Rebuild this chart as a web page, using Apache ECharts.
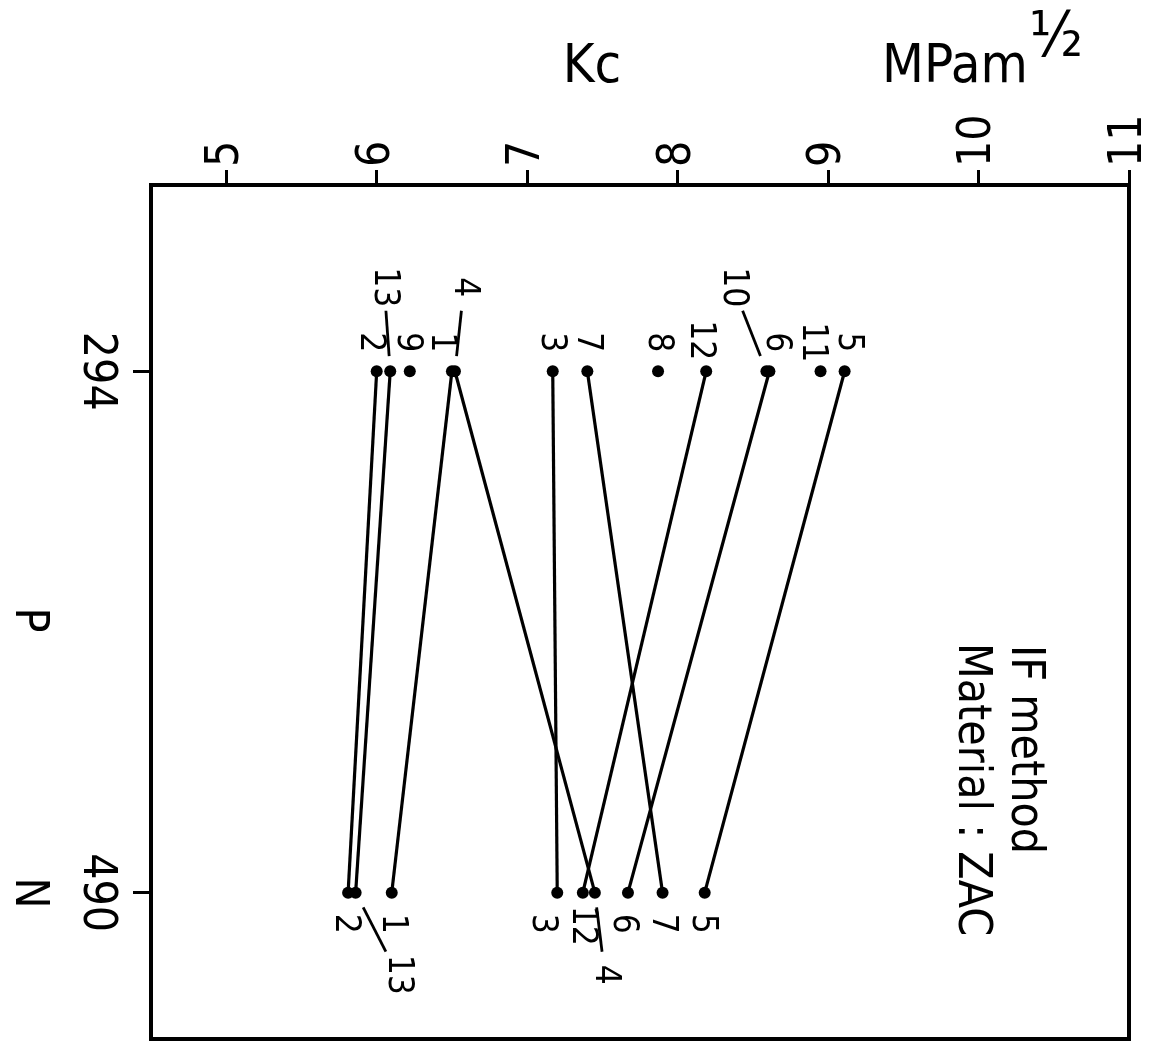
<!DOCTYPE html>
<html>
<head>
<meta charset="utf-8">
<title>Kc vs P — IF method, ZAC</title>
<script src="https://cdn.jsdelivr.net/npm/echarts@6/dist/echarts.min.js"></script>
<style>
  html, body { margin: 0; padding: 0; background: #fff; }
  #chart { width: 1163px; height: 1042px; }
</style>
</head>
<body>
<div id="chart"></div>
<script>
// Indentation loads P (N)
const loads = [294, 490];
// Specimen numbers
const specimens = ['1', '2', '3', '4', '5', '6', '7', '8', '9', '10', '11', '12', '13'];
// Fracture toughness Kc (MPa·m^1/2) at P = 294 N
const kcAt294 = [6.50, 6.00, 7.17, 6.52, 9.11, 8.61, 7.40, 7.87, 6.22, 8.59, 8.95, 8.19, 6.09];
// Fracture toughness Kc (MPa·m^1/2) at P = 490 N (null: not measured)
const kcAt490 = [6.10, 5.81, 7.20, 7.45, 8.18, 7.67, 7.90, null, null, null, null, 7.37, 5.86];
// Axis tick values
const kcTicks = [5, 6, 7, 8, 9, 10, 11];
const loadTicks = [294, 490];

// Label placement around each point: [right, down] in screen px from the dot centre
const labelShift294 = {
  '1': [-11, -29], '2': [-7, -29], '3': [-2, -29], '4': [9, -84], '5': [3, -29],
  '6': [7, -29], '7': [0, -29], '8': [0, -29], '9': [-3, -29], '10': [-33, -84],
  '11': [-8, -29], '12': [-6, -31], '13': [-6, -84]
};
const labelShift490 = {
  '1': [0, 31], '2': [-3, 31], '3': [-15, 31], '4': [10, 82], '5': [-3, 31],
  '6': [-5, 31], '7': [0, 31], '12': [-1, 33], '13': [42, 82]
};
// Labels that sit one row further out and get a short leader stroke
const leader294 = ['4', '10', '13'];
const leader490 = ['4', '13'];

const FONT = "'DejaVu Sans Condensed', 'Liberation Sans Narrow', 'DejaVu Sans', sans-serif";

const series = specimens.map((name, i) => {
  const points = [];
  const shifts = [];
  if (kcAt294[i] != null) {
    points.push([kcAt294[i], loads[0]]);
    shifts.push(labelShift294[name]);
  }
  if (kcAt490[i] != null) {
    points.push([kcAt490[i], loads[1]]);
    shifts.push(labelShift490[name]);
  }
  return {
    type: 'line',
    name: name,
    data: points,
    symbol: 'circle',
    symbolSize: 12,
    itemStyle: { color: '#000' },
    lineStyle: { color: '#000', width: 3.2 },
    silent: true,
    emphasis: { disabled: true },
    z: 3,
    label: {
      show: true,
      position: 'inside',
      rotate: -90,
      align: 'center',
      verticalAlign: 'middle',
      formatter: name,
      fontSize: 35,
      fontFamily: FONT,
      color: '#000',
      textBorderWidth: 0
    },
    // the label frame is turned a quarter clockwise, so screen shifts are mapped into it
    labelLayout: (p) => {
      const s = shifts[p.dataIndex];
      return { dx: s[1], dy: -s[0] };
    }
  };
});

// Leader strokes between a point and its outer label: [Kc, P, shiftRight, shiftDown]
const leaderData = [];
specimens.forEach((name, i) => {
  if (leader294.includes(name)) leaderData.push([kcAt294[i], loads[0], ...labelShift294[name]]);
  if (leader490.includes(name)) leaderData.push([kcAt490[i], loads[1], ...labelShift490[name]]);
});

series.push({
  type: 'custom',
  name: 'leaders',
  silent: true,
  z: 2,
  encode: { x: 0, y: 1 },
  data: leaderData,
  renderItem: (params, api) => {
    const c = api.coord([api.value(0), api.value(1)]);
    const sx = api.value(2), sy = api.value(3);
    return {
      type: 'line',
      shape: {
        x1: c[0] + sx * 0.18, y1: c[1] + sy * 0.18,
        x2: c[0] + sx * 0.72, y2: c[1] + sy * 0.72
      },
      style: { stroke: '#000', lineWidth: 2.8 }
    };
  }
});

const chart = echarts.init(document.getElementById('chart'), null, { renderer: 'canvas' });

chart.setOption({
  animation: false,
  backgroundColor: '#fff',
  grid: {
    left: 151, top: 185, right: 34, bottom: 3,
    show: true, borderColor: '#000', borderWidth: 4, backgroundColor: 'transparent'
  },
  xAxis: {
    type: 'value',
    position: 'top',
    min: 4.5,
    max: 11,
    axisLine: { show: true, onZero: false, lineStyle: { color: '#000', width: 4 } },
    axisTick: { show: true, customValues: kcTicks, length: 15, lineStyle: { color: '#000', width: 3 } },
    axisLabel: {
      customValues: kcTicks, rotate: -90, margin: 18,
      fontSize: 46, fontFamily: FONT, color: '#000'
    },
    splitLine: { show: false }
  },
  yAxis: {
    type: 'value',
    inverse: true,
    min: 224,
    max: 545,
    axisLine: { show: true, onZero: false, lineStyle: { color: '#000', width: 4 } },
    axisTick: { show: true, customValues: loadTicks, length: 18, lineStyle: { color: '#000', width: 3 } },
    axisLabel: {
      customValues: loadTicks, rotate: -90, margin: 32,
      fontSize: 46, fontFamily: FONT, color: '#000'
    },
    splitLine: { show: false }
  },
  graphic: [
    { type: 'text', x: 592, y: 68, style: { text: 'Kc', font: '54px ' + FONT, fill: '#000', align: 'center', verticalAlign: 'middle' } },
    { type: 'text', x: 955, y: 68, style: { text: 'MPam', font: '54px ' + FONT, fill: '#000', align: 'center', verticalAlign: 'middle' } },
    { type: 'text', x: 1056, y: 40, style: { text: '\u00BD', font: '62px ' + FONT, fill: '#000', align: 'center', verticalAlign: 'middle' } },
    { type: 'text', x: 28, y: 620, rotation: -Math.PI / 2, style: { text: 'P', font: '46px ' + FONT, fill: '#000', align: 'center', verticalAlign: 'middle' } },
    { type: 'text', x: 28, y: 893, rotation: -Math.PI / 2, style: { text: 'N', font: '46px ' + FONT, fill: '#000', align: 'center', verticalAlign: 'middle' } },
    { type: 'text', x: 1024, y: 645, rotation: -Math.PI / 2, style: { text: 'IF method', font: '46px ' + FONT, fill: '#000', align: 'left', verticalAlign: 'middle' } },
    { type: 'text', x: 971, y: 643, rotation: -Math.PI / 2, style: { text: 'Material : ZAC', font: '46px ' + FONT, fill: '#000', align: 'left', verticalAlign: 'middle' } }
  ],
  series: series
});
</script>
</body>
</html>
